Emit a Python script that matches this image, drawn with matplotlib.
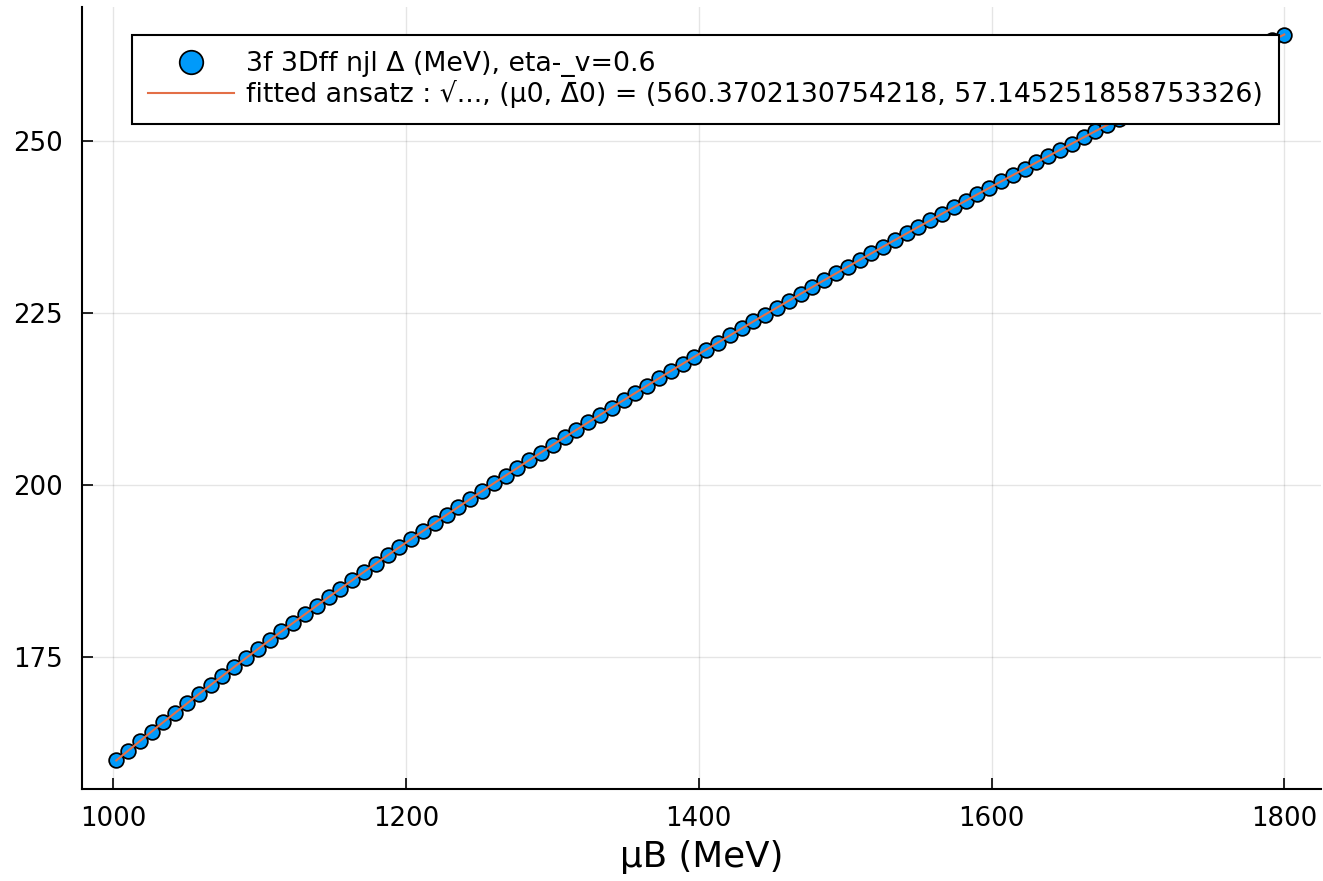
import matplotlib
matplotlib.use("Agg")
import matplotlib.pyplot as plt

# chemical potential grid (MeV)
mu_b = [
    1002.0, 1010.1, 1018.1, 1026.2, 1034.2, 1042.3, 1050.4, 1058.4, 1066.5, 1074.5,
    1082.6, 1090.7, 1098.7, 1106.8, 1114.8, 1122.9, 1131.0, 1139.0, 1147.1, 1155.2,
    1163.2, 1171.3, 1179.3, 1187.4, 1195.5, 1203.5, 1211.6, 1219.6, 1227.7, 1235.8,
    1243.8, 1251.9, 1259.9, 1268.0, 1276.1, 1284.1, 1292.2, 1300.2, 1308.3, 1316.4,
    1324.4, 1332.5, 1340.5, 1348.6, 1356.7, 1364.7, 1372.8, 1380.8, 1388.9, 1397.0,
    1405.0, 1413.1, 1421.2, 1429.2, 1437.3, 1445.3, 1453.4, 1461.5, 1469.5, 1477.6,
    1485.6, 1493.7, 1501.8, 1509.8, 1517.9, 1525.9, 1534.0, 1542.1, 1550.1, 1558.2,
    1566.2, 1574.3, 1582.4, 1590.4, 1598.5, 1606.5, 1614.6, 1622.7, 1630.7, 1638.8,
    1646.8, 1654.9, 1663.0, 1671.0, 1679.1, 1687.2, 1695.2, 1703.3, 1711.3, 1719.4,
    1727.5, 1735.5, 1743.6, 1751.6, 1759.7, 1767.8, 1775.8, 1783.9, 1791.9, 1800.0,
]

# gap Delta (MeV)
delta = [
    160.00, 161.41, 162.81, 164.20, 165.57, 166.93, 168.29, 169.63, 170.96, 172.28,
    173.59, 174.89, 176.18, 177.47, 178.74, 180.00, 181.26, 182.50, 183.74, 184.97,
    186.19, 187.41, 188.61, 189.81, 191.00, 192.18, 193.36, 194.53, 195.69, 196.85,
    197.99, 199.14, 200.27, 201.40, 202.52, 203.64, 204.75, 205.86, 206.95, 208.05,
    209.13, 210.21, 211.29, 212.36, 213.43, 214.48, 215.54, 216.59, 217.63, 218.67,
    219.70, 220.74, 221.76, 222.78, 223.80, 224.81, 225.81, 226.81, 227.81, 228.80,
    229.79, 230.77, 231.76, 232.73, 233.70, 234.67, 235.64, 236.60, 237.55, 238.50,
    239.46, 240.40, 241.34, 242.28, 243.21, 244.14, 245.07, 245.99, 246.91, 247.83,
    248.74, 249.65, 250.56, 251.46, 252.36, 253.26, 254.15, 255.04, 255.93, 256.81,
    257.70, 258.57, 259.45, 260.32, 261.19, 262.06, 262.92, 263.78, 264.64, 265.50,
]

# fitted curve sits on top of the data at plot resolution
delta_fit = list(delta)

scatter_label = "3f 3Dff njl Δ (MeV), eta-_v=0.6"
fit_label = ("fitted ansatz : √..., (μ0, Δ\u03040) = "
             "(560.3702130754218, 57.145251858753326)")
xticks = [1000, 1200, 1400, 1600, 1800]
yticks = [175, 200, 225, 250]

plt.rcParams["font.family"] = ["DejaVu Sans"]

W, H = 1323, 881
fig = plt.figure(figsize=(W / 100, H / 100), dpi=100)
ax = fig.add_axes([82 / W, (H - 789) / H, (1321 - 82) / W, (789 - 7) / H])

ax.plot(mu_b, delta, "o", color="#009AFA", markersize=10.6,
        markeredgecolor="black", markeredgewidth=1.25, label=scatter_label,
        zorder=3)
ax.plot(mu_b, delta_fit, "-", color="#E36F47", lw=1.5, label=fit_label,
        zorder=4)

ax.set_xlim(978.6, 1825.1)
ax.set_ylim(155.85, 269.5)
ax.set_xticks(xticks)
ax.set_yticks(yticks)
ax.grid(True, color="black", alpha=0.1, lw=1.0)
ax.set_axisbelow(True)

for side in ("top", "right"):
    ax.spines[side].set_visible(False)
for side in ("left", "bottom"):
    ax.spines[side].set_linewidth(1.5)

ax.tick_params(direction="in", length=8, width=1.2, labelsize=18.7,
               colors="black")
ax.tick_params(axis="y", pad=14)
ax.tick_params(axis="x", pad=12)
ax.set_xlabel("μB (MeV)", fontsize=25.7, labelpad=6)

leg = ax.legend(loc="upper right", bbox_to_anchor=(0.966, 0.964),
                fontsize=19.3, frameon=True, fancybox=False, framealpha=1,
                edgecolor="black", markerscale=1.6, handlelength=3.2,
                handletextpad=0.45, borderpad=0.6, labelspacing=0.1,
                borderaxespad=0)
leg.get_frame().set_linewidth(1.5)

fig.savefig("out.png", dpi=100)
